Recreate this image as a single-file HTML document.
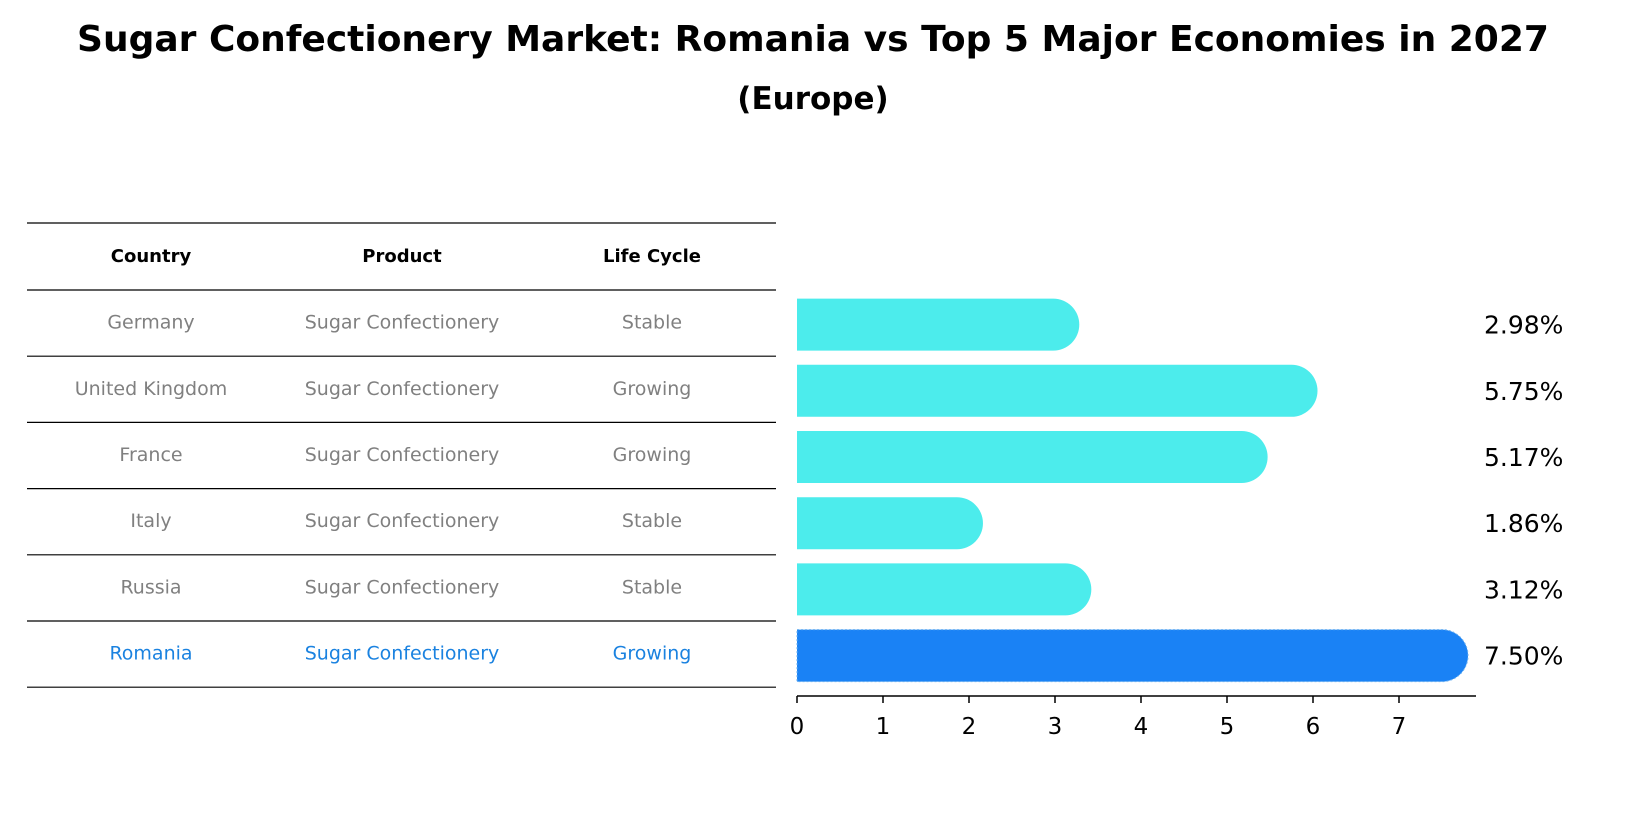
<!DOCTYPE html>
<html><head><meta charset="utf-8"><style>
body{margin:0;background:#fff;font-family:"DejaVu Sans","Liberation Sans",sans-serif;}
</style></head><body>
<svg width="1627" height="823" xmlns="http://www.w3.org/2000/svg" font-family="DejaVu Sans, Liberation Sans, sans-serif">
<text x="813" y="51" text-anchor="middle" font-size="36" font-weight="bold">Sugar Confectionery Market: Romania vs Top 5 Major Economies in 2027</text>
<text x="813" y="109" text-anchor="middle" font-size="31" font-weight="bold">(Europe)</text>
<g id="table"></g>
<g id="bars"></g>
<g id="axis"></g>
</svg>
<script>
const countries=["Germany","United Kingdom","France","Italy","Russia","Romania"];
const products=["Sugar Confectionery","Sugar Confectionery","Sugar Confectionery","Sugar Confectionery","Sugar Confectionery","Sugar Confectionery"];
const lifeCycles=["Stable","Growing","Growing","Stable","Stable","Growing"];
const values=[2.98,5.75,5.17,1.86,3.12,7.50];
const ticks=[0,1,2,3,4,5,6,7];
const NS="http://www.w3.org/2000/svg";
function mk(t,a,p){const e=document.createElementNS(NS,t);for(const k in a)e.setAttribute(k,a[k]);p.appendChild(e);return e;}
const x0=797,unit=86;
const xs=v=>x0+v*unit;
const rowTop=290,rowH=66.2;
const yc=i=>rowTop+rowH*i+rowH/2-0.5;
const tbl=document.getElementById('table');
const lines=[223,290];for(let i=1;i<=6;i++)lines.push(rowTop+rowH*i);
lines.forEach((y,i)=>{const l=mk('line',{x1:27,x2:776,y1:y,y2:y,stroke:'#000','stroke-width':1.2},tbl);

});
const cols=[151,402,652];
["Country","Product","Life Cycle"].forEach((h,j)=>{const t=mk('text',{x:cols[j],y:262,'text-anchor':'middle','font-size':18,'font-weight':'bold'},tbl);t.textContent=h;

});
countries.forEach((c,i)=>{const col=i===5?'#1a82e0':'#808080';
[c,products[i],lifeCycles[i]].forEach((v,j)=>{const t=mk('text',{x:cols[j],y:yc(i)+6,'text-anchor':'middle','font-size':19,fill:col},tbl);t.textContent=v;

});});
const bg=document.getElementById('bars');
const bh=52,r=26;
values.forEach((v,i)=>{const y=yc(i)+2;const last=i===5;const fill=last?'#1a82f5':'#4cecec';
const w=xs(v)-x0;
const p=mk('path',{d:`M${x0} ${y-bh/2} H${x0+w} A${r} ${r} 0 0 1 ${x0+w} ${y+bh/2} H${x0} Z`,fill:fill},bg);
if(last){p.setAttribute('stroke','#6ab0f0');p.setAttribute('stroke-dasharray','2 2');}


const t=mk('text',{x:1484,y:y+9,'font-size':25},bg);t.textContent=v.toFixed(2)+'%';

});
const ax=document.getElementById('axis');
const al=mk('line',{x1:x0,x2:1476,y1:696,y2:696,stroke:'#000','stroke-width':1.5},ax);


ticks.forEach(v=>{const tl=mk('line',{x1:xs(v),x2:xs(v),y1:696,y2:703,stroke:'#000','stroke-width':1.5},ax);


const t=mk('text',{x:xs(v),y:734,'text-anchor':'middle','font-size':23},ax);t.textContent=v;

});
</script>
</body></html>
